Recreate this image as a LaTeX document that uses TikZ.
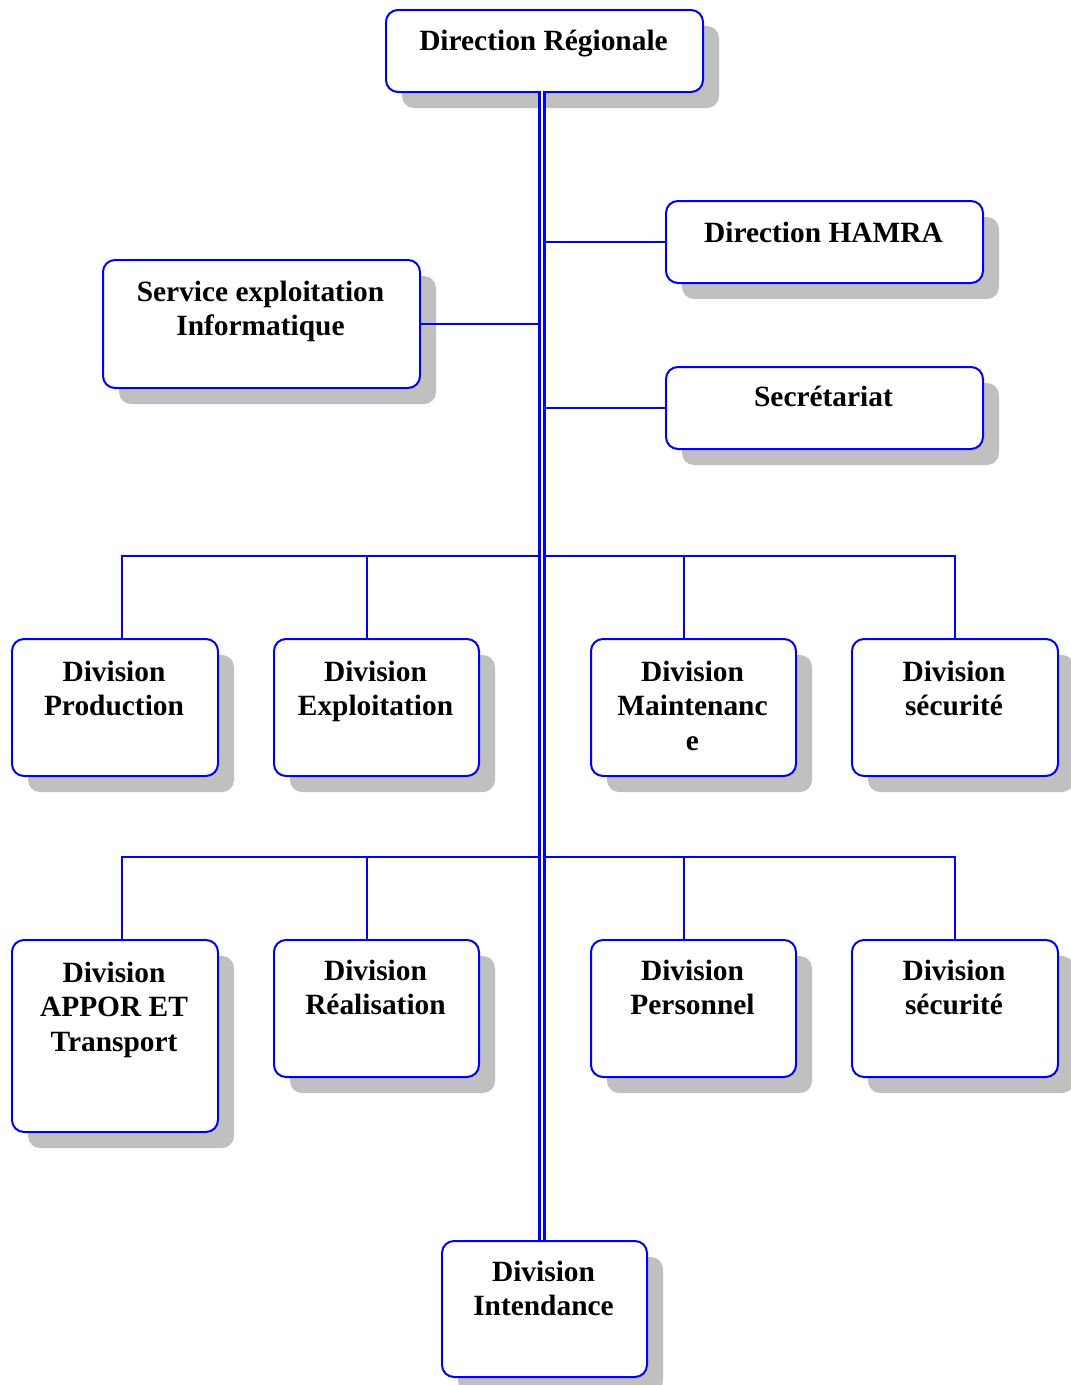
\documentclass[tikz,border=0pt]{standalone}
\usepackage{fontspec}
\setmainfont{Liberation Serif}
\usetikzlibrary{shadows}
\definecolor{shadowgray}{RGB}{192,192,192}
\newcommand\boxlines[1]{\begin{tabular}[t]{@{}c@{}}#1\end{tabular}}
\begin{document}
\begin{tikzpicture}[x=1pt,y=-1pt,
  card/.style={draw=blue, line width=2pt, rounded corners=12pt, fill=white,
    inner sep=0pt, anchor=north west,
    drop shadow={shadow xshift=16pt, shadow yshift=-16pt, fill=shadowgray, opacity=1}},
  caption/.style={anchor=base, inner sep=0pt,
    font=\fontsize{29.4}{34.5}\selectfont\bfseries},
  link/.style={draw=blue, line width=1.8pt},
  trunkline/.style={draw=blue, line width=2.4pt, double=white, double distance=2.6pt}]
\useasboundingbox[fill=white] (0,0) rectangle (1071,1385);

% top of the chart
\node[card, minimum width=317, minimum height=82] (dr) at (385,9) {};
\node[caption] (drt) at (543.5,50) {Direction Régionale};

% staff boxes beside the trunk
\node[card, minimum width=317, minimum height=82] (hamra) at (665,200) {};
\node[caption] (hamrat) at (823.5,242) {Direction HAMRA};
\node[card, minimum width=317, minimum height=128] (sei) at (102,259) {};
\node[caption] (seit) at (260.5,301) {\boxlines{Service exploitation\\Informatique}};
\node[card, minimum width=317, minimum height=82] (sec) at (665,366) {};
\node[caption] (sect) at (823.5,406) {Secrétariat};

% first row of divisions
\node[card, minimum width=206, minimum height=137] (prod) at (11,638) {};
\node[caption] (prodt) at (114,681) {\boxlines{Division\\Production}};
\node[card, minimum width=205, minimum height=137] (expl) at (273,638) {};
\node[caption] (explt) at (375.5,681) {\boxlines{Division\\Exploitation}};
\node[card, minimum width=205, minimum height=137] (maint) at (590,638) {};
\node[caption] (maintt) at (692.5,681) {\boxlines{Division\\Maintenanc\\e}};
\node[card, minimum width=206, minimum height=137] (secu) at (851,638) {};
\node[caption] (secut) at (954,681) {\boxlines{Division\\sécurité}};

% second row of divisions
\node[card, minimum width=206, minimum height=192] (appor) at (11,939) {};
\node[caption] (apport) at (114,982) {\boxlines{Division\\APPOR ET\\Transport}};
\node[card, minimum width=205, minimum height=137] (real) at (273,939) {};
\node[caption] (realt) at (375.5,980) {\boxlines{Division\\Réalisation}};
\node[card, minimum width=205, minimum height=137] (pers) at (590,939) {};
\node[caption] (perst) at (692.5,980) {\boxlines{Division\\Personnel}};
\node[card, minimum width=206, minimum height=137] (secub) at (851,939) {};
\node[caption] (secubt) at (954,980) {\boxlines{Division\\sécurité}};

% bottom box
\node[card, minimum width=205, minimum height=136] (int) at (441,1240) {};
\node[caption] (intt) at (543.5,1281) {\boxlines{Division\\Intendance}};

% trunk and branch points
\coordinate (top) at (542,91);
\coordinate (bottom) at (542,1240);
\coordinate (trunkR) at (544,0);
\coordinate (trunkL) at (540,0);
\coordinate (busA) at (542,556);
\coordinate (busB) at (542,857);

% staff links
\path[link] (hamra.west) -- (hamra.west -| trunkR);
\path[link] (sec.west) -- (sec.west -| trunkR);
\path[link] (sei.east) -- (sei.east -| trunkL);

% first row bus
\path[link] ([xshift=7pt]prod.north) |- (busA);
\path[link] ([xshift=-9.5pt]expl.north) |- (busA);
\path[link] ([xshift=-9.5pt]maint.north) |- (busA);
\path[link] (secu.north) |- (busA);

% second row bus
\path[link] ([xshift=7pt]appor.north) |- (busB);
\path[link] ([xshift=-9.5pt]real.north) |- (busB);
\path[link] ([xshift=-9.5pt]pers.north) |- (busB);
\path[link] (secub.north) |- (busB);

% main trunk
\path[trunkline] (top) -- (bottom);
\end{tikzpicture}
\end{document}
